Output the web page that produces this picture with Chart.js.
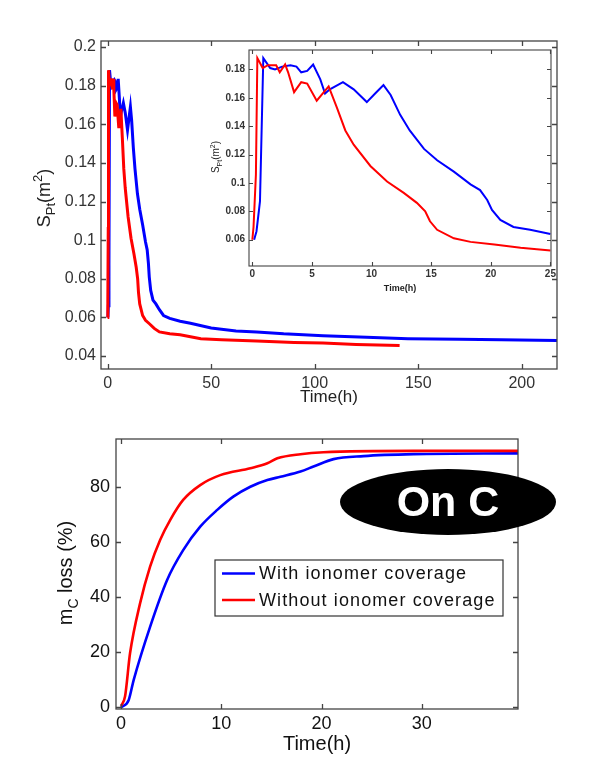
<!DOCTYPE html>
<html lang="en">
<head>
<meta charset="UTF-8" />
<title>Pt surface and carbon loss</title>
<script src="https://cdn.jsdelivr.net/npm/chart.js@4.4.1/dist/chart.umd.min.js"></script>
<style>
  body { margin: 0; background: #fff; }
  #wrap { position: relative; width: 589px; height: 776px; overflow: hidden; }
  canvas { position: absolute; }
</style>
</head>
<body>
<div id="wrap">
  <canvas id="mainChart" width="589" height="410" style="left:0;top:0"></canvas>
  <canvas id="insetChart" width="375" height="260" style="left:190px;top:40px"></canvas>
  <canvas id="lossChart" width="589" height="356" style="left:0;top:420px"></canvas>
</div>
<script>
// ---- S_Pt, first 25 h (also used for the inset) ----
const tWithEarly = [0.15, 0.35, 0.64, 0.92, 1.5, 1.9, 2.5, 3.2, 3.7, 4.1, 4.6, 5.1, 5.7, 6.1, 6.5, 7.6, 8.5, 9.6, 10.3, 11.0, 11.6, 12.4, 13.2, 14.4, 15.5, 16.9, 18.3, 19.1, 19.7, 20.1, 20.8, 21.9, 23.3, 25];
const sWithEarly = [0.060, 0.066, 0.087, 0.188, 0.181, 0.180, 0.182, 0.183, 0.182, 0.178, 0.179, 0.1835, 0.173, 0.163, 0.166, 0.171, 0.166, 0.157, 0.163, 0.169, 0.162, 0.148, 0.137, 0.124, 0.116, 0.108, 0.099, 0.095, 0.088, 0.081, 0.074, 0.069, 0.067, 0.064];
const tWithoutEarly = [0, 0.1, 0.3, 0.42, 0.87, 1.3, 2.0, 2.3, 2.75, 3.0, 3.5, 4.1, 4.6, 5.4, 6.4, 7.1, 7.8, 8.5, 9.9, 11.3, 12.7, 13.8, 14.5, 14.9, 15.5, 16.9, 18.3, 20.3, 22.5, 25];
const sWithoutEarly = [0.060, 0.069, 0.106, 0.188, 0.181, 0.183, 0.183, 0.178, 0.1835, 0.178, 0.164, 0.171, 0.170, 0.158, 0.168, 0.153, 0.137, 0.127, 0.112, 0.101, 0.093, 0.086, 0.080, 0.073, 0.067, 0.061, 0.0585, 0.0566, 0.0543, 0.0525];

// ---- S_Pt after 25 h (main plot only) ----
const tWithLate = [27, 30, 35, 40, 50, 62, 72, 85, 104, 125, 145, 170, 190, 217];
const sWithLate = [0.061, 0.0595, 0.058, 0.057, 0.0545, 0.053, 0.0525, 0.0515, 0.0505, 0.0497, 0.049, 0.0487, 0.0485, 0.048];
const tWithoutLate = [30, 35, 40, 45, 55, 72, 90, 104, 120, 141];
const sWithoutLate = [0.0515, 0.051, 0.050, 0.049, 0.0485, 0.0478, 0.047, 0.0467, 0.046, 0.0455];

// ---- carbon mass loss (%) ----
const tWithLoss = [0, 0.76, 1.26, 2.9, 4.6, 6.2, 7.9, 9.6, 11.2, 12.9, 14.6, 15.9, 17.9, 19.2, 21.2, 24.2, 29.2, 39.6];
const mWithLoss = [0, 2.6, 9.9, 29.2, 46.2, 57, 65.5, 71.6, 76.4, 80, 82.4, 83.6, 85.5, 87.3, 90, 91.1, 91.8, 92.1];
const tWithoutLoss = [0, 0.4, 0.9, 1.9, 2.9, 3.9, 4.9, 6.2, 7.9, 9.9, 12.9, 14.6, 15.6, 17.9, 20.2, 29.2, 39.6];
const mWithoutLoss = [0.5, 3.9, 19.6, 37.7, 51, 60.7, 67.9, 75.2, 80.6, 84.2, 86.7, 88.5, 90.3, 91.8, 92.5, 93, 93];

const seriesNames = ['With ionomer coverage', 'Without ionomer coverage'];

// tick values
const mainXTicks = [0, 50, 100, 150, 200];
const mainYTicks = [0.04, 0.06, 0.08, 0.1, 0.12, 0.14, 0.16, 0.18, 0.2];
const insetXTicks = [0, 5, 10, 15, 20, 25];
const insetYTicks = [0.06, 0.08, 0.1, 0.12, 0.14, 0.16, 0.18];
const lossXTicks = [0, 10, 20, 30];
const lossYTicks = [0, 20, 40, 60, 80];

const BLUE = '#0000ff', RED = '#ff0000';

function pts(xs, ys) { return xs.map((x, i) => ({ x: x, y: ys[i] })); }

function drawRich(ctx, item) {
  const base = item.size, fam = 'Arial, "Liberation Sans", sans-serif', wt = item.weight || 'normal';
  const fontFor = p => wt + ' ' + ((p.sub || p.sup) ? Math.round(base * 0.72) : base) + 'px ' + fam;
  ctx.save();
  ctx.translate(item.x, item.y);
  if (item.rotate) ctx.rotate(item.rotate);
  let w = 0;
  item.parts.forEach(p => { ctx.font = fontFor(p); w += ctx.measureText(p.t).width; });
  let cx = -w / 2;
  ctx.fillStyle = item.color || '#000';
  ctx.textBaseline = 'alphabetic';
  ctx.textAlign = 'left';
  item.parts.forEach(p => {
    ctx.font = fontFor(p);
    const dy = p.sub ? base * 0.3 : (p.sup ? -base * 0.42 : 0);
    ctx.fillText(p.t, cx, dy);
    cx += ctx.measureText(p.t).width;
  });
  ctx.restore();
}

// matlab-like box with inward ticks on all four sides, plus free texts
const matlabAxes = {
  id: 'matlabAxes',
  beforeDraw(chart, args, o) {
    if (!o.fill) return;
    const a = chart.chartArea, ctx = chart.ctx;
    ctx.save();
    ctx.fillStyle = o.fill;
    ctx.fillRect(a.left, a.top, a.width, a.height);
    ctx.restore();
  },
  afterDatasetsDraw(chart, args, o) {
    const a = chart.chartArea, ctx = chart.ctx;
    const x = chart.scales.x, y = chart.scales.y, L = o.tick;
    ctx.save();
    ctx.strokeStyle = o.color;
    ctx.lineWidth = o.width;
    ctx.beginPath();
    x.ticks.forEach(t => {
      const px = Math.round(x.getPixelForValue(t.value)) + 0.5;
      ctx.moveTo(px, a.bottom); ctx.lineTo(px, a.bottom - L);
      ctx.moveTo(px, a.top); ctx.lineTo(px, a.top + L);
    });
    y.ticks.forEach(t => {
      const py = Math.round(y.getPixelForValue(t.value)) + 0.5;
      ctx.moveTo(a.left, py); ctx.lineTo(a.left + L, py);
      ctx.moveTo(a.right, py); ctx.lineTo(a.right - L, py);
    });
    ctx.stroke();
    ctx.strokeRect(a.left, a.top, a.width, a.height);
    ctx.restore();
  },
  afterDraw(chart, args, o) {
    (o.texts || []).forEach(t => drawRich(chart.ctx, t));
  }
};

const onCLegend = {
  id: 'onCLegend',
  afterDraw(chart, args, o) {
    if (!o.box) return;
    const ctx = chart.ctx, b = o.box;
    ctx.save();
    ctx.fillStyle = '#fff';
    ctx.fillRect(b.x, b.y, b.w, b.h);
    ctx.strokeStyle = '#333';
    ctx.lineWidth = 1.2;
    ctx.strokeRect(b.x, b.y, b.w, b.h);
    ctx.font = '18px Arial, "Liberation Sans", sans-serif';
    ctx.letterSpacing = '1.1px';
    ctx.textBaseline = 'middle';
    ctx.fillStyle = '#111';
    chart.data.datasets.forEach((ds, i) => {
      const yy = b.y + 13.5 + i * 26.5;
      ctx.strokeStyle = ds.borderColor;
      ctx.lineWidth = 2.5;
      ctx.beginPath();
      ctx.moveTo(b.x + 7, yy); ctx.lineTo(b.x + 40, yy);
      ctx.stroke();
      ctx.fillText(ds.label, b.x + 44, yy + 1);
    });
    ctx.letterSpacing = '0px';
    // "On C" badge
    const e = o.badge;
    ctx.fillStyle = '#000';
    ctx.beginPath();
    ctx.ellipse(e.x, e.y, e.rx, e.ry, 0, 0, Math.PI * 2);
    ctx.fill();
    ctx.fillStyle = '#fff';
    ctx.font = 'bold 43px Arial, "Liberation Sans", sans-serif';
    ctx.textAlign = 'center';
    ctx.textBaseline = 'middle';
    ctx.fillText(e.text, e.x, e.y + 2);
    ctx.restore();
  }
};

function lineSet(label, data, color, width, order, smooth) {
  return {
    label: label, data: data, borderColor: color, backgroundColor: color,
    borderWidth: width, pointRadius: 0, fill: false, order: order,
    tension: 0, cubicInterpolationMode: smooth ? 'monotone' : 'default'
  };
}

function axis(o) {
  return {
    type: 'linear', min: o.min, max: o.max,
    afterBuildTicks: s => { s.ticks = o.ticks.map(v => ({ value: v })); },
    afterFit: s => { if (o.width != null) s.width = o.width; if (o.height != null) s.height = o.height; },
    grid: { display: false, drawTicks: false },
    border: { display: false },
    ticks: {
      padding: o.pad, color: o.color, maxRotation: 0, autoSkip: false,
      font: { family: 'Arial, "Liberation Sans", sans-serif', size: o.size, weight: o.weight || 'normal' },
      callback: v => String(+Number(v).toFixed(3))
    }
  };
}

Chart.defaults.animation = false;

// main S_Pt plot
new Chart(document.getElementById('mainChart'), {
  type: 'line',
  data: {
    datasets: [
      lineSet(seriesNames[0], pts(tWithEarly.concat(tWithLate), sWithEarly.concat(sWithLate)), BLUE, 3, 1),
      lineSet(seriesNames[1], pts(tWithoutEarly.concat(tWithoutLate), sWithoutEarly.concat(sWithoutLate)), RED, 3, 0)
    ]
  },
  options: {
    responsive: false, parsing: false, events: [],
    layout: { padding: { top: 41, right: 32, left: 0, bottom: 0 } },
    scales: {
      x: axis({ min: -3.2, max: 217, ticks: mainXTicks, height: 41, pad: 5, size: 16, color: '#333' }),
      y: axis({ min: 0.0333, max: 0.2031, ticks: mainYTicks, width: 101, pad: 5, size: 16, color: '#333' })
    },
    plugins: {
      legend: { display: false }, tooltip: { enabled: false },
      matlabAxes: {
        color: '#444', width: 1.3, tick: 5,
        texts: [
          { x: 329, y: 402, size: 17, color: '#222', parts: [{ t: 'Time(h)' }] },
          { x: 50, y: 198, size: 18, color: '#222', rotate: -Math.PI / 2,
            parts: [{ t: 'S' }, { t: 'Pt', sub: true }, { t: '(m' }, { t: '2', sup: true }, { t: ')' }] }
        ]
      }
    }
  },
  plugins: [matlabAxes]
});

// inset, 0-25 h
new Chart(document.getElementById('insetChart'), {
  type: 'line',
  data: {
    datasets: [
      lineSet(seriesNames[0], pts(tWithEarly, sWithEarly), BLUE, 2, 1),
      lineSet(seriesNames[1], pts(tWithoutEarly, sWithoutEarly), RED, 2, 0)
    ]
  },
  options: {
    responsive: false, parsing: false, events: [],
    layout: { padding: { top: 7.5, right: 14, left: 0, bottom: 0 } },
    scales: {
      x: axis({ min: -0.28, max: 25.05, ticks: insetXTicks, height: 34, pad: 2, size: 10, weight: 'bold', color: '#333' }),
      y: axis({ min: 0.0415, max: 0.1937, ticks: insetYTicks, width: 59, pad: 4, size: 10, weight: 'bold', color: '#333' })
    },
    plugins: {
      legend: { display: false }, tooltip: { enabled: false },
      matlabAxes: {
        color: '#444', width: 1.1, tick: 4, fill: '#fff',
        texts: [
          { x: 210, y: 251, size: 9, weight: 'bold', color: '#222', parts: [{ t: 'Time(h)' }] },
          { x: 29, y: 117, size: 10, color: '#222', rotate: -Math.PI / 2,
            parts: [{ t: 'S' }, { t: 'Pt', sub: true }, { t: '(m' }, { t: '2', sup: true }, { t: ')' }] }
        ]
      }
    }
  },
  plugins: [matlabAxes]
});

// carbon mass loss plot
new Chart(document.getElementById('lossChart'), {
  type: 'line',
  data: {
    datasets: [
      lineSet(seriesNames[0], pts(tWithLoss, mWithLoss), BLUE, 2.6, 1, true),
      lineSet(seriesNames[1], pts(tWithoutLoss, mWithoutLoss), RED, 2.6, 0, true)
    ]
  },
  options: {
    responsive: false, parsing: false, events: [],
    layout: { padding: { top: 19, right: 71, left: 0, bottom: 0 } },
    scales: {
      x: axis({ min: -0.5, max: 39.6, ticks: lossXTicks, height: 67, pad: 4, size: 18, color: '#111' }),
      y: axis({ min: -0.6, max: 97.3, ticks: lossYTicks, width: 116, pad: 6, size: 18, color: '#111' })
    },
    plugins: {
      legend: { display: false }, tooltip: { enabled: false },
      matlabAxes: {
        color: '#444', width: 1.3, tick: 5,
        texts: [
          { x: 317, y: 330, size: 20, color: '#111', parts: [{ t: 'Time(h)' }] },
          { x: 72, y: 153, size: 20, color: '#111', rotate: -Math.PI / 2,
            parts: [{ t: 'm' }, { t: 'C', sub: true }, { t: ' loss (%)' }] }
        ]
      },
      onCLegend: {
        box: { x: 215, y: 140, w: 288, h: 56 },
        badge: { x: 448, y: 82, rx: 108, ry: 33, text: 'On C' }
      }
    }
  },
  plugins: [matlabAxes, onCLegend]
});
</script>
</body>
</html>
